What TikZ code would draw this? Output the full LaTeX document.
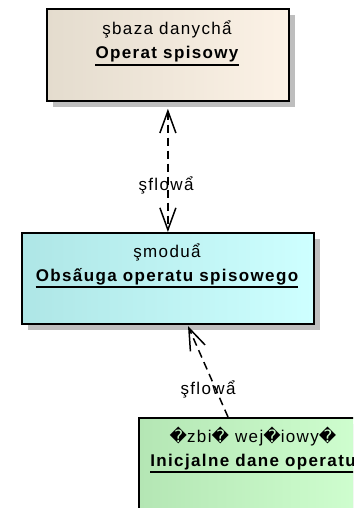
\documentclass[tikz,border=0pt]{standalone}
\usepackage{fontspec}
\setmainfont{Liberation Sans}[LetterSpace=8]
\newfontfamily\replfont{DejaVu Sans}[LetterSpace=4]
\usetikzlibrary{arrows.meta,shadows}

\definecolor{dbleft}{RGB}{228,220,206}
\definecolor{dbright}{RGB}{252,242,230}
\definecolor{modleft}{RGB}{174,230,230}
\definecolor{modright}{RGB}{206,255,255}
\definecolor{inleft}{RGB}{180,230,180}
\definecolor{inright}{RGB}{208,255,208}
\definecolor{shadowgray}{RGB}{190,190,190}

\newcommand{\rp}{{\replfont\symbol{"FFFD}}}

\tikzset{
  elem/.style={draw=black, line width=1.8pt, anchor=north west, inner sep=0pt,
    drop shadow={shadow xshift=6pt, shadow yshift=-6pt, fill=shadowgray, opacity=1}},
  stereo/.style={anchor=base, inner sep=0pt, font=\fontsize{17}{20}\selectfont},
  elname/.style={anchor=base, inner sep=0pt, font=\fontsize{17}{20}\selectfont\bfseries},
  flow/.style={dash pattern=on 8pt off 5pt, line width=1.5pt},
  barb/.tip={Straight Barb[length=22pt,width=16pt,line width=1.5pt]}
}

\begin{document}
\begin{tikzpicture}[x=1pt,y=-1pt]
\clip (0,0) rectangle (353,508);

% elements
\node[elem, left color=dbleft, right color=dbright, minimum width=242pt, minimum height=92pt] (db) at (46,8) {};
\node[elem, left color=modleft, right color=modright, minimum width=292pt, minimum height=91pt] (mod) at (21,232) {};
\node[elem, left color=inleft, right color=inright, minimum width=230pt, minimum height=120pt] (inp) at (138,417) {};

\node[stereo] (dbst) at (167,35) {şbaza danychẩ};
\node[elname] (dbti) at (167,59) {Operat spisowy};
\draw[line width=1.6pt] ([yshift=-6pt]dbti.base west) -- ([yshift=-6pt]dbti.base east);

\node[stereo] (modst) at (167,257) {şmoduẩ};
\node[elname] (modti) at (167,281) {Obsấuga operatu spisowego};
\draw[line width=1.6pt] ([yshift=-6pt]modti.base west) -- ([yshift=-6pt]modti.base east);

\node[stereo] (inpst) at (253,442) {\rp zbi\rp{} wej\rp iowy\rp};
\node[elname] (inpti) at (253,466) {Inicjalne dane operatu};
\draw[line width=1.6pt] ([yshift=-6pt]inpti.base west) -- ([yshift=-6pt]inpti.base east);

% flows
\coordinate (f2a) at (228,417);
\coordinate (f2b) at (188,326);

\draw[flow, barb-barb] ([yshift=-7pt]db.south) -- (mod.north);
\node[stereo] (fl1) at (166,190) {şflowẩ};

\draw[flow, -barb] (f2a) -- (f2b);
\node[stereo] (fl2) at (208,394) {şflowẩ};
\end{tikzpicture}
\end{document}
